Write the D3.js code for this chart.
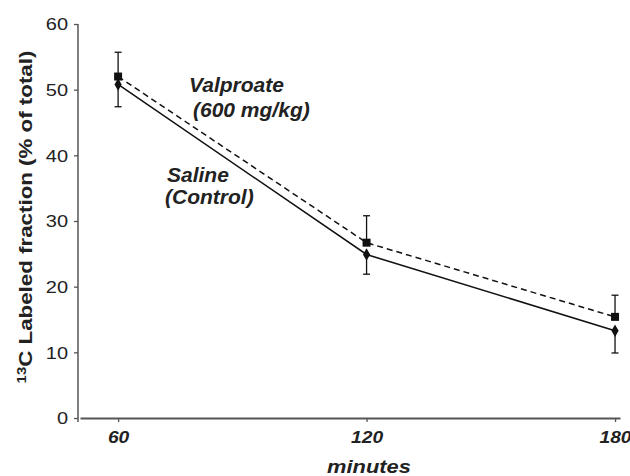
<!DOCTYPE html>
<html>
<head>
<meta charset="utf-8">
<script src="https://cdn.jsdelivr.net/npm/d3@7"></script>
<style>
  body { margin: 0; background: #fff; }
  text { font-family: Arial, "Liberation Sans", Helvetica, sans-serif; fill: #222; }
</style>
</head>
<body>
<div id="chart"></div>
<script>
// data
var minutes = [60, 120, 180];
var valproate = [52.0, 26.7, 15.4];
var valproateErr = [3.7, 4.1, 3.3];
var saline = [50.8, 24.9, 13.3];
var salineErr = [3.4, 3.0, 3.4];
var yTicks = [0, 10, 20, 30, 40, 50, 60];

var svgWidth = 630;
var svgHeight = 476;

var svg = d3.select("#chart")
    .append("svg")
    .attr("width", svgWidth)
    .attr("height", svgHeight);

// scales (axis line runs a bit past the first/last tick)
var xScale = d3.scaleLinear()
    .domain([50.8, 181.2])
    .range([80, 620]);

var yScale = d3.scaleLinear()
    .domain([0, 60])
    .range([418, 24]);

// stretch text horizontally to match the wide font of the original
function stretch(sel, k) {
    sel.each(function() {
        var len = this.getComputedTextLength();
        d3.select(this)
            .attr("textLength", len * k)
            .attr("lengthAdjust", "spacingAndGlyphs");
    });
}

// y axis
var yAxis = d3.axisLeft(yScale).tickValues(yTicks).tickSize(4).tickPadding(6);
var yG = svg.append("g")
    .attr("transform", "translate(78,0)")
    .call(yAxis);
yG.select(".domain").remove();
yG.selectAll(".tick line").attr("stroke", "#555").attr("stroke-width", 1.3);
yG.selectAll(".tick text")
    .attr("font-size", 16)
    .attr("dy", "0.36em")
    .style("font-family", "Arial, 'Liberation Sans', sans-serif")
    .attr("fill", "#222")
    .call(stretch, 1.25);
svg.append("line")
    .attr("x1", 78).attr("x2", 78)
    .attr("y1", yScale(60)).attr("y2", yScale(0) + 4)
    .attr("stroke", "#555")
    .attr("stroke-width", 1.5);

// x axis
var xAxis = d3.axisBottom(xScale).tickValues(minutes).tickSize(4).tickPadding(10).tickSizeOuter(0);
var xG = svg.append("g")
    .attr("transform", "translate(0,418)")
    .call(xAxis);
xG.select(".domain").attr("stroke", "#555").attr("stroke-width", 2);
xG.selectAll(".tick line").attr("stroke", "#555").attr("stroke-width", 1.3);
xG.selectAll(".tick text")
    .attr("font-size", 16)
    .attr("font-weight", "bold")
    .attr("font-style", "italic")
    .attr("fill", "#222")
    .call(stretch, 1.2);

// axis titles
svg.append("text")
    .attr("x", 369)
    .attr("y", 473)
    .attr("text-anchor", "middle")
    .attr("font-size", 19)
    .attr("font-weight", "bold")
    .attr("font-style", "italic")
    .text("minutes")
    .call(stretch, 1.15);

var yLabel = svg.append("text")
    .attr("transform", "translate(32,217) rotate(-90)")
    .attr("text-anchor", "middle")
    .attr("font-size", 18)
    .attr("font-weight", "bold");
yLabel.append("tspan")
    .attr("font-size", 12)
    .attr("baseline-shift", "6")
    .text("13");
yLabel.append("tspan")
    .text("C Labeled fraction (% of total)");
yLabel.call(stretch, 1.24);

// lines
var lineV = d3.line()
    .x(function(d, i) { return xScale(minutes[i]); })
    .y(function(d) { return yScale(d); });

// error bars (valproate up, saline down)
function errorBars(vals, errs, dir) {
    var g = svg.append("g").attr("stroke", "#111").attr("stroke-width", 1.3);
    g.selectAll("line.bar")
        .data(vals)
        .enter()
        .append("line")
        .attr("class", "bar")
        .attr("x1", function(d, i) { return xScale(minutes[i]); })
        .attr("x2", function(d, i) { return xScale(minutes[i]); })
        .attr("y1", function(d) { return yScale(d); })
        .attr("y2", function(d, i) { return yScale(d + dir * errs[i]); });
    g.selectAll("line.cap")
        .data(vals)
        .enter()
        .append("line")
        .attr("class", "cap")
        .attr("x1", function(d, i) { return xScale(minutes[i]) - 3.5; })
        .attr("x2", function(d, i) { return xScale(minutes[i]) + 3.5; })
        .attr("y1", function(d, i) { return yScale(d + dir * errs[i]); })
        .attr("y2", function(d, i) { return yScale(d + dir * errs[i]); });
}
errorBars(valproate, valproateErr, 1);
errorBars(saline, salineErr, -1);

svg.append("path")
    .datum(valproate)
    .attr("d", lineV)
    .attr("fill", "none")
    .attr("stroke", "#111")
    .attr("stroke-width", 1.5)
    .attr("stroke-dasharray", "6,4");

svg.append("path")
    .datum(saline)
    .attr("d", lineV)
    .attr("fill", "none")
    .attr("stroke", "#111")
    .attr("stroke-width", 1.5);

// markers
svg.selectAll("rect.valp")
    .data(valproate)
    .enter()
    .append("rect")
    .attr("class", "valp")
    .attr("x", function(d, i) { return xScale(minutes[i]) - 4; })
    .attr("y", function(d) { return yScale(d) - 4; })
    .attr("width", 8)
    .attr("height", 8)
    .attr("fill", "#111");

var diamond = d3.symbol().type(d3.symbolDiamond).size(45);
svg.selectAll("path.sal")
    .data(saline)
    .enter()
    .append("path")
    .attr("class", "sal")
    .attr("d", diamond)
    .attr("transform", function(d, i) { return "translate(" + xScale(minutes[i]) + "," + yScale(d) + ")"; })
    .attr("fill", "#111");

// series labels
var labels = [
    { t: "Valproate", x: 189, y: 92 },
    { t: "(600 mg/kg)", x: 193, y: 117 },
    { t: "Saline", x: 167, y: 182 },
    { t: "(Control)", x: 165, y: 204 }
];
svg.selectAll("text.lab")
    .data(labels)
    .enter()
    .append("text")
    .attr("class", "lab")
    .attr("x", function(d) { return d.x; })
    .attr("y", function(d) { return d.y; })
    .attr("font-size", 21)
    .attr("font-weight", "bold")
    .attr("font-style", "italic")
    .text(function(d) { return d.t; });
</script>
</body>
</html>
